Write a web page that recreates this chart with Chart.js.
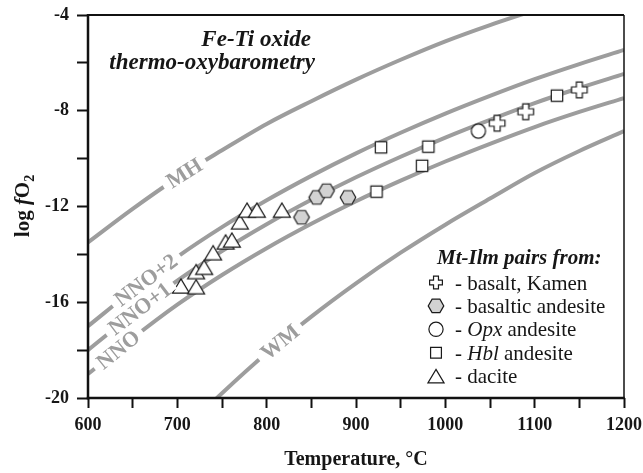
<!DOCTYPE html>
<html>
<head>
<meta charset="utf-8">
<script src="https://cdn.jsdelivr.net/npm/chart.js@4.4.0/dist/chart.umd.min.js"></script>
<style>
  html, body { margin: 0; padding: 0; background: #fff; }
</style>
</head>
<body>
<canvas id="chart" width="643" height="473"></canvas>
<script>
// buffer curves (T in deg C, log fO2)
var curveTemps = [600, 650, 700, 750, 800, 850, 900, 950, 1000, 1050, 1100, 1150, 1200];
var mhTemps = [600, 650, 700, 750, 800, 850, 900, 950, 1000, 1050, 1100];
var mhVals = [-13.5, -12.1, -10.8, -9.65, -8.55, -7.6, -6.7, -5.87, -5.1, -4.42, -3.8];
var nno2Vals = [-17.0, -15.5, -14.1, -12.86, -11.74, -10.72, -9.78, -8.92, -8.12, -7.38, -6.68, -6.05, -5.46];
var nno1Vals = [-18.0, -16.5, -15.1, -13.86, -12.74, -11.72, -10.78, -9.92, -9.12, -8.38, -7.68, -7.05, -6.46];
var nnoVals = [-19.0, -17.5, -16.1, -14.86, -13.74, -12.72, -11.78, -10.92, -10.12, -9.38, -8.68, -8.05, -7.47];
var wmTemps = [700, 750, 800, 850, 900, 950, 1000, 1050, 1100, 1150, 1200];
var wmVals = [-21.6, -19.8, -18.12, -16.6, -15.21, -13.93, -12.76, -11.67, -10.6, -9.68, -8.85];

var curveNames = ['MH', 'NNO+2', 'NNO+1', 'NNO', 'WM'];
var curveLabelT = [708, 665, 658, 634, 815];

// Mt-Ilm pairs
var basaltT = [1058, 1090, 1150];
var basaltV = [-8.52, -8.04, -7.13];
var basAndT = [839, 856, 867, 891];
var basAndV = [-12.45, -11.62, -11.34, -11.62];
var opxT = [1037];
var opxV = [-8.85];
var hblT = [923, 928, 974, 981, 1125];
var hblV = [-11.38, -9.53, -10.30, -9.50, -7.37];
var daciteT = [704, 721, 721, 730, 740, 754, 761, 770, 778, 789, 817];
var daciteV = [-15.32, -15.35, -14.72, -14.54, -13.93, -13.48, -13.40, -12.64, -12.15, -12.15, -12.15];

var xTicks = [600, 700, 800, 900, 1000, 1100, 1200];
var yTicks = [-4, -8, -12, -16, -20];

var SERIF = '"Liberation Serif", "Times New Roman", serif';
var LINE_GREY = '#9d9d9d';

function pts(ts, vs) {
  return ts.map(function (t, i) { return { x: t, y: vs[i] }; });
}

// marker shapes
function shape(g, kind, x, y, s) {
  g.beginPath();
  if (kind == 'cross') {
    var a = 7.8 * s, w = 3.0 * s;
    var p = [[-w,-a],[w,-a],[w,-w],[a,-w],[a,w],[w,w],[w,a],[-w,a],[-w,w],[-a,w],[-a,-w],[-w,-w]];
    g.moveTo(x + p[0][0], y + p[0][1]);
    for (var i = 1; i < p.length; i++) g.lineTo(x + p[i][0], y + p[i][1]);
    g.closePath();
    g.fillStyle = '#fff';
  } else if (kind == 'hex') {
    var r = 7.8 * s;
    for (var k = 0; k < 6; k++) {
      var an = k * Math.PI / 3;
      if (k == 0) g.moveTo(x + r * Math.cos(an), y + r * Math.sin(an));
      else g.lineTo(x + r * Math.cos(an), y + r * Math.sin(an));
    }
    g.closePath();
    g.fillStyle = '#d2d2d2';
  } else if (kind == 'circle') {
    g.arc(x, y, 7.1 * s, 0, Math.PI * 2);
    g.fillStyle = '#fff';
  } else if (kind == 'square') {
    var h = 5.7 * s;
    g.rect(x - h, y - h, 2 * h, 2 * h);
    g.fillStyle = '#fff';
  } else if (kind == 'triangle') {
    var hw = 8.5 * s, hh = 7.1 * s;
    g.moveTo(x, y - hh);
    g.lineTo(x + hw, y + hh);
    g.lineTo(x - hw, y + hh);
    g.closePath();
    g.fillStyle = '#fff';
  }
  g.fill();
  g.strokeStyle = '#1a1a1a';
  g.lineWidth = 1.2;
  g.stroke();
}

function marker(kind) {
  var c = document.createElement('canvas');
  c.width = 24; c.height = 24;
  shape(c.getContext('2d'), kind, 12, 12, 1);
  return c;
}

function scatterSet(label, ts, vs, kind) {
  return {
    label: label,
    data: pts(ts, vs),
    pointStyle: marker(kind),
    pointRadius: 9,
    showLine: false,
    order: 0
  };
}

function curveSet(label, ts, vs) {
  return {
    label: label,
    data: pts(ts, vs),
    showLine: true,
    borderColor: LINE_GREY,
    borderWidth: 4,
    pointRadius: 0,
    cubicInterpolationMode: 'monotone',
    clip: 0,
    order: 10
  };
}

var curveData = [
  [mhTemps, mhVals],
  [curveTemps, nno2Vals],
  [curveTemps, nno1Vals],
  [curveTemps, nnoVals],
  [wmTemps, wmVals]
];

function valAt(ts, vs, t) {
  for (var k = 0; k < ts.length - 1; k++) {
    if (t >= ts[k] && t <= ts[k + 1]) {
      var f = (t - ts[k]) / (ts[k + 1] - ts[k]);
      return vs[k] + f * (vs[k + 1] - vs[k]);
    }
  }
  return vs[vs.length - 1];
}

var decor = {
  id: 'decor',
  afterDraw: function (chart) {
    var ctx = chart.ctx, a = chart.chartArea;
    var xs = chart.scales.x, ys = chart.scales.y;
    ctx.save();

    // frame
    ctx.strokeStyle = '#111';
    function seg(x1, y1, x2, y2, w) {
      ctx.lineWidth = w;
      ctx.beginPath(); ctx.moveTo(x1, y1); ctx.lineTo(x2, y2); ctx.stroke();
    }
    seg(a.left - 1, a.top, a.right, a.top, 2);
    seg(a.right, a.top, a.right, a.bottom, 1.5);
    seg(a.left - 1.25, a.bottom, a.right + 0.75, a.bottom, 2.5);
    seg(a.left, a.top - 1, a.left, a.bottom + 1.25, 2.5);

    // buffer labels along the curves
    ctx.font = 'bold 22px ' + SERIF;
    ctx.textAlign = 'center';
    ctx.textBaseline = 'middle';
    curveNames.forEach(function (name, i) {
      var ts = curveData[i][0], vs = curveData[i][1], t = curveLabelT[i];
      var px = xs.getPixelForValue(t), py = ys.getPixelForValue(valAt(ts, vs, t));
      var x1 = xs.getPixelForValue(t - 12), y1 = ys.getPixelForValue(valAt(ts, vs, t - 12));
      var x2 = xs.getPixelForValue(t + 12), y2 = ys.getPixelForValue(valAt(ts, vs, t + 12));
      var ang = Math.atan2(y2 - y1, x2 - x1);
      var w = ctx.measureText(name).width;
      ctx.save();
      ctx.translate(px, py);
      ctx.rotate(ang);
      ctx.fillStyle = '#fff';
      ctx.fillRect(-w / 2 - 6, -6, w + 12, 12);
      ctx.fillStyle = LINE_GREY;
      ctx.fillText(name, 0, 1);
      ctx.restore();
    });

    // title
    ctx.fillStyle = '#161616';
    ctx.textAlign = 'right';
    ctx.textBaseline = 'alphabetic';
    ctx.font = 'italic bold 23px ' + SERIF;
    ctx.fillText('Fe-Ti oxide', 311, 46);
    ctx.fillText('thermo-oxybarometry', 315, 69);

    // legend
    ctx.textAlign = 'left';
    ctx.font = 'italic bold 21px ' + SERIF;
    ctx.fillText('Mt-Ilm pairs from:', 437, 264);
    var rows = [
      ['cross', 0.82, [['- basalt, Kamen', '']]],
      ['hex', 1.0, [['- basaltic andesite', '']]],
      ['circle', 1.0, [['- ', ''], ['Opx', 'italic '], [' andesite', '']]],
      ['square', 0.95, [['- ', ''], ['Hbl', 'italic '], [' andesite', '']]],
      ['triangle', 0.95, [['- dacite', '']]]
    ];
    rows.forEach(function (r, i) {
      var by = 289.5 + i * 23.4;
      shape(ctx, r[0], 436, by - 7, r[1]);
      ctx.fillStyle = '#161616';
      var tx = 455;
      r[2].forEach(function (part) {
        ctx.font = part[1] + '21px ' + SERIF;
        ctx.fillText(part[0], tx, by);
        tx += ctx.measureText(part[0]).width;
      });
    });

    // y title: log fO2
    ctx.save();
    ctx.translate(29, 206);
    ctx.rotate(-Math.PI / 2);
    var parts = [['log ', 'bold 21px ', 0], ['f', 'italic bold 21px ', 0], ['O', 'bold 21px ', 0], ['2', 'bold 14px ', 5]];
    var total = 0;
    parts.forEach(function (p) { ctx.font = p[1] + SERIF; total += ctx.measureText(p[0]).width; });
    var cx = -total / 2;
    ctx.textAlign = 'left';
    parts.forEach(function (p) {
      ctx.font = p[1] + SERIF;
      ctx.fillText(p[0], cx, p[2]);
      cx += ctx.measureText(p[0]).width;
    });
    ctx.restore();

    ctx.restore();
  }
};

var ctx = document.getElementById('chart').getContext('2d');
var myChart = new Chart(ctx, {
  type: 'scatter',
  data: {
    datasets: [
      scatterSet('dacite', daciteT, daciteV, 'triangle'),
      scatterSet('Hbl andesite', hblT, hblV, 'square'),
      scatterSet('Opx andesite', opxT, opxV, 'circle'),
      scatterSet('basaltic andesite', basAndT, basAndV, 'hex'),
      scatterSet('basalt, Kamen', basaltT, basaltV, 'cross'),
      curveSet('MH', mhTemps, mhVals),
      curveSet('NNO+2', curveTemps, nno2Vals),
      curveSet('NNO+1', curveTemps, nno1Vals),
      curveSet('NNO', curveTemps, nnoVals),
      curveSet('WM', wmTemps, wmVals)
    ]
  },
  options: {
    responsive: false,
    animation: false,
    layout: { padding: { top: 15, right: 19, left: 0, bottom: 0 } },
    plugins: { legend: { display: false }, tooltip: { enabled: false } },
    scales: {
      x: {
        type: 'linear', min: 600, max: 1200,
        border: { display: false },
        grid: { drawOnChartArea: false, drawTicks: true, tickLength: 10, tickColor: '#111', tickWidth: 2 },
        ticks: {
          stepSize: 50, autoSkip: false, maxRotation: 0, padding: 7,
          color: '#161616', font: { family: SERIF, size: 18, weight: 'bold' },
          callback: function (v) { return xTicks.indexOf(v) >= 0 ? String(v) : ''; }
        },
        title: {
          display: true, text: 'Temperature, °C', color: '#161616',
          font: { family: SERIF, size: 20, weight: 'bold' }, padding: { top: 0, bottom: 1 }
        },
        afterFit: function (s) { s.height = 75; s.paddingLeft = 0; s.paddingRight = 0; }
      },
      y: {
        type: 'linear', min: -20, max: -4,
        border: { display: false },
        grid: { drawOnChartArea: false, drawTicks: true, tickLength: 11, tickColor: '#111', tickWidth: 2 },
        ticks: {
          stepSize: 2, autoSkip: false, padding: 8,
          color: '#161616', font: { family: SERIF, size: 18, weight: 'bold' },
          callback: function (v) { return yTicks.indexOf(v) >= 0 ? String(v) : ''; }
        },
        afterFit: function (s) { s.width = 88; s.paddingTop = 0; s.paddingBottom = 0; }
      }
    }
  },
  plugins: [decor]
});
</script>
</body>
</html>
